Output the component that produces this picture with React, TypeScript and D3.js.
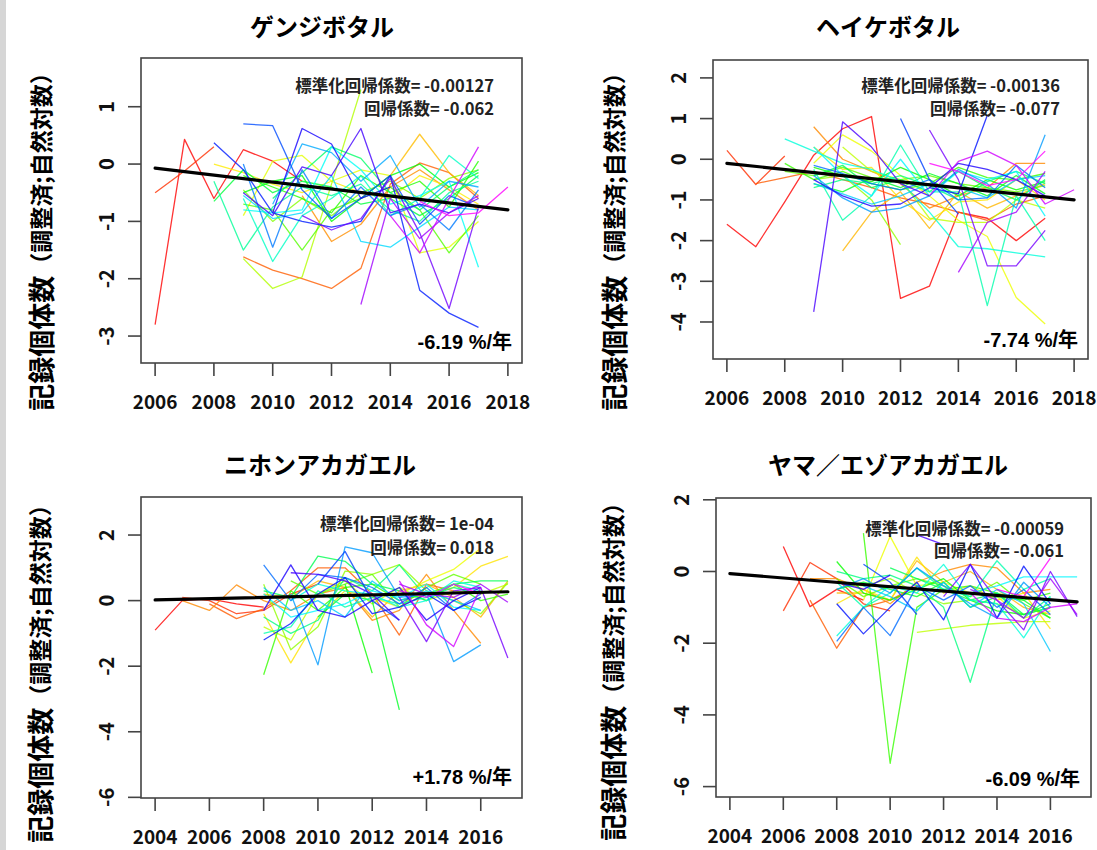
import React from "react";
import * as d3 from "d3";

// ---------------- data ----------------
const xTicksTop = [2006, 2008, 2010, 2012, 2014, 2016, 2018];
const xTicksBottom = [2004, 2006, 2008, 2010, 2012, 2014, 2016];
const yTicksGenji = [-3, -2, -1, 0, 1];
const yTicksHeike = [-4, -3, -2, -1, 0, 1, 2];
const yTicksFrog = [-6, -4, -2, 0, 2];

const titles = ["ゲンジボタル", "ヘイケボタル", "ニホンアカガエル", "ヤマ／エゾアカガエル"];
const stdCoefText = ["標準化回帰係数= -0.00127", "標準化回帰係数= -0.00136", "標準化回帰係数= 1e-04", "標準化回帰係数= -0.00059"];
const coefText = ["回帰係数= -0.062", "回帰係数= -0.077", "回帰係数= 0.018", "回帰係数= -0.061"];
const rateText = ["-6.19 %/年", "-7.74 %/年", "+1.78 %/年", "-6.09 %/年"];
const yTitleMain = "記録個体数";
const yTitleSub = "（調整済;自然対数）";

// trend lines [year, value]
const genjiTrend: [number, number][] = [[2006, -0.07], [2018, -0.80]];
const heikeTrend: [number, number][] = [[2006, -0.10], [2018, -1.00]];
const nihonTrend: [number, number][] = [[2004, 0.02], [2017, 0.27]];
const yamaTrend: [number, number][] = [[2004, -0.06], [2017, -0.85]];

// series: first year + yearly values (ordered by colour, red -> magenta)
const genjiStart = [2006, 2006, 2009, 2011, 2013, 2008, 2009, 2009, 2009, 2009, 2009, 2009, 2008, 2010, 2008, 2009, 2009, 2009, 2010, 2009, 2009, 2008, 2010, 2009, 2011, 2013, 2014, 2015];
const genjiValues = [
  [-2.8, 0.43, -0.6, 0.25, 0.05, -0.3],
  [-0.5, -0.12, 0.3],
  [-1.62, -1.85, -2.0, -2.17, -1.82, -0.35, 0.02, -0.15, -0.6],
  [-0.55, -1.35, -1.05, -0.4, -0.1, -0.45, -0.8],
  [-0.6, -0.2, 0.52, -0.15, -0.55],
  [0.0, -0.15, -0.35, -0.5, -0.3, -0.5, -0.6, -0.2, -0.4, -0.7],
  [-0.9, 0.05, 0.15, -0.3, -0.1, -0.2, -1.55, -1.45, -1.0],
  [-1.65, -2.17, -1.97, -0.35, 1.3],
  [-0.45, -1.0, -0.6, -0.9, -0.5, -0.3, -0.6, -0.25, -0.1],
  [-0.7, -0.8, -1.5, -0.8, -0.6, -0.4, -0.8, -1.55, -0.9],
  [-0.2, -0.4, -0.6, -0.85, -0.2, -0.5, -0.3, -0.75, 0.05],
  [-0.5, -0.3, -0.2, -1.0, -0.6, -0.2, 0.0, -0.4, -0.15],
  [-0.65, -0.1, -0.5, -0.3, -0.4, -0.7, -0.6, -0.9, -0.6, -0.2],
  [-0.6, -0.15, 0.3, 0.1, -0.5, -0.8, -0.4, -0.1],
  [-0.3, -1.5, -0.75, -0.4, -0.55, -0.35, -0.8, -1.0, -0.5, -0.3],
  [-0.6, -1.7, -0.9, -0.6, -0.2, -0.9, -0.6, 0.15, -0.25],
  [-0.8, -0.85, -0.8, 0.3, -0.1, -0.7, -0.55, -0.3, -1.8],
  [-0.55, -0.95, -0.85, -0.2, -1.35, -1.45, -1.1, -0.75, -0.8],
  [-0.7, 0.35, 0.2, -0.3, 0.15, -0.75, -0.3, -0.4],
  [0.0, -1.45, -0.1, -0.95, -0.4, -0.9, -0.7, -1.15, -0.45],
  [0.7, 0.67, -0.45, -0.95, -0.6, -0.2, -1.05, -0.55, -0.75],
  [0.37, -0.1, -0.85, -1.0, -1.1, -1.0, -0.2, -2.2, -2.6, -2.85],
  [-0.85, 0.62, 0.35, -0.6, -0.4],
  [-0.5, -0.9, -0.05, -0.2, 0.62, -0.85, -0.7, -0.85, -0.6],
  [-0.9, -1.15, -0.95, -0.25, -1.2, -2.52, -0.75],
  [-2.45, -0.6, -1.3, -0.85, -0.55],
  [-0.9, -1.55, -0.6, 0.3],
  [-0.65, -0.9, -0.85, -0.4],
];

const heikeStart = [2006, 2006, 2007, 2009, 2010, 2009, 2009, 2010, 2009, 2008, 2008, 2009, 2009, 2009, 2009, 2009, 2008, 2009, 2009, 2009, 2009, 2012, 2013, 2009, 2009, 2013, 2014, 2013, 2013];
const heikeValues = [
  [-1.6, -2.15, -1.05, 0.1, 0.75, 1.05, -3.42, -3.12, -1.3, -1.45, -2.0, -1.45],
  [0.22, -0.62, 0.08],
  [-0.6, -0.45, -0.3, -0.5, -0.7, -0.95, -1.1, -1.3, -1.5, -1.1, -0.9],
  [0.8, 0.0, -0.3, -0.6, -1.2, -0.9, -0.7, -0.1, -0.1],
  [-2.25, -1.3, -0.8, -1.7, -0.8, -1.2, -0.9, -0.6],
  [0.3, -0.25, -0.2, -1.0, -1.5, -1.05, -1.0, -0.5, -1.0],
  [-0.1, 0.6, 0.2, -0.4, -0.9, -1.5, -1.9, -3.4, -4.05],
  [0.3, -0.3, -0.5, -1.45, -1.55, -1.55, -1.0, -1.2],
  [-0.5, -0.4, -1.0, -2.1],
  [-0.3, -0.4, -0.2, -0.45, -0.5, -0.4, -0.6, -0.7, -0.8, -0.65],
  [-0.1, -0.5, -0.3, -0.6, -0.75, -0.6, -0.2, -0.45, -0.5, -0.35],
  [-0.2, -0.4, -0.55, -0.2, -0.5, -0.9, -0.5, -0.75, -0.55],
  [-0.6, -0.8, -0.45, -0.7, -0.35, -0.6, -0.9, -0.4, -0.85],
  [-0.4, -0.15, -0.7, -0.5, -0.8, -0.3, -0.7, -1.0, -0.5],
  [-0.7, -0.5, -0.6, -0.4, -0.65, -1.0, -0.55, -0.3, -0.6],
  [-0.25, -1.5, -0.9, 0.35, -0.8, -0.8, -3.6, -0.9, -2.0],
  [0.5, 0.2, -0.1, -0.25, -0.55, -1.3, -2.15, -2.2, -2.3, -2.4],
  [0.3, -0.4, -0.9, 0.0, -0.9, -0.3, -0.5, -0.3, -1.4],
  [-0.6, -0.85, -1.1, -0.9, -0.6, -0.7, -0.95, -0.5, -0.4],
  [-0.4, -0.95, -1.3, -1.2, -0.9, -0.25, -0.6, -1.2, 0.6],
  [-0.15, -0.35, -0.6, -0.75, -0.5, -1.0, -0.95, -0.15, -0.7],
  [1.0, -0.5, -1.35],
  [-0.7, -0.85, 1.08],
  [-0.5, -0.9, -1.15, -1.1, -0.7, -0.1, -0.25, -0.5, -0.9],
  [-3.75, 0.92, 0.3, -0.6, -0.9],
  [0.72, -0.5, -2.62, -2.62, -1.75],
  [-2.78, -1.55, -1.3, -0.3],
  [-0.9, -0.05, 0.2, -0.15, -1.1, -0.75],
  [-0.1, -0.3, -0.65, -0.5, 0.2],
];

const nihonStart = [2004, 2005, 2006, 2005, 2008, 2008, 2013, 2008, 2008, 2009, 2008, 2011, 2010, 2008, 2008, 2008, 2009, 2008, 2008, 2009, 2008, 2010, 2008, 2008, 2009, 2013, 2013, 2013, 2013];
const nihonValues = [
  [-0.9, 0.0, 0.05, -0.1, -0.2],
  [0.1, 0.0, -0.4, -0.3, 0.2, 0.5],
  [-0.1, -0.55, -0.25, 0.3, 1.0, 1.0, 0.2, -1.05, 0.5, 0.3],
  [0.0, -0.3, 0.48, 0.0, -0.3, 0.2, 0.4, -0.6, -0.3, 0.8, -0.3, -1.3],
  [0.2, 0.1, 0.6, 0.4, -0.5, 0.3, 0.5, 0.1, -0.5, 0.6],
  [-0.4, -1.9, -0.5, 0.3, 0.1, -0.2, 0.2, 0.4, 1.05, 1.35],
  [0.2, 0.6, 0.95, 1.6],
  [-0.8, -1.2, 0.2, 0.6, -0.1, 0.4, 0.0, 0.3, 0.2, 0.5],
  [0.5, -1.5, -0.8, 0.9, 0.8, 1.1, 0.3, 0.0, -0.4, 0.55],
  [0.6, 0.2, 0.5, 0.8, -0.2, 0.4, 0.8, 0.5],
  [-2.26, 0.3, -0.3, 0.4, 0.5, 0.0, 0.2, 0.5, 0.0, 0.2],
  [0.5, -2.21],
  [-0.5, 0.2, 0.0, -3.33],
  [0.3, 0.1, 1.36, 1.2, 0.5, 0.3, 0.0, 0.5, 0.6, 0.6],
  [-0.5, -1.0, -0.6, 0.7, 0.3, 1.09, 0.1, 0.4, 0.2],
  [-1.0, -0.8, 0.3, -0.2, 0.1, -0.1, 0.1, 0.5, 0.3],
  [0.0, 0.5, 0.3, 0.2, -0.2, 0.0, 0.6, 0.4],
  [0.2, -0.5, -0.3, -0.1, 0.3, 0.1, 0.5, -0.2, -0.3],
  [0.4, -0.3, 0.0, -0.5, 0.6, 0.0, 0.3, 0.0, -0.3],
  [0.2, -1.96, 1.64, 1.46, 0.1, 0.2, -1.86, -1.35],
  [1.09, 0.0, 0.8, 0.7, 0.4, -0.1, 0.4, -0.3, 0.2],
  [0.5, 1.5, 0.0, -0.6],
  [-1.2, -0.7, 0.2, 0.7, -0.4, -0.2, 0.2, -0.3, 0.1],
  [-0.3, 1.09, -0.3, -0.5, 0.0, 0.4, -0.6, 0.0, 0.4],
  [0.85, 0.8, 0.6, 0.2, -0.6],
  [0.1, -1.25, 0.3, 0.4, -1.75],
  [0.5, 0.2, 0.1, 0.5, -0.05],
  [0.6, -0.74, -1.4, 0.4],
  [0.3, 0.1, 0.5, 0.2],
];

const yamaStart = [2006, 2006, 2007, 2007, 2008, 2008, 2009, 2011, 2008, 2008, 2009, 2008, 2008, 2010, 2008, 2008, 2008, 2013, 2009, 2008, 2008, 2009, 2008, 2008, 2011, 2012, 2013, 2013, 2014];
const yamaValues = [
  [0.7, -0.98, -0.5, -0.8],
  [-1.1, 0.25, -0.2, -0.9, -1.1],
  [-0.8, -2.14, -1.0, -0.8, -0.4],
  [-0.2, -0.2, -0.5, -0.9, -0.3, 0.0, 0.2, 0.1, -0.6, -0.5],
  [-0.6, -0.6, -0.8, 0.3, -0.3, 0.0, -0.5, -1.0, -1.2],
  [-0.9, -0.5, -0.8, 0.4, -0.6, -0.4, -0.8, -0.6, -1.6],
  [-0.8, 0.98, -0.4, -0.3, -0.6, -0.7, -1.3, -1.1],
  [-1.7, -1.6, -1.5, -1.45, -1.4, -1.4],
  [-0.3, -0.4, -0.2, -0.6, -0.9, -0.8, -0.9, -1.2, -1.0],
  [-0.2, -0.7, -0.4, -0.2, -0.4, -0.7, -0.3, -0.9, -1.3],
  [1.07, -5.35, -1.0, -0.5, -0.4, -0.6, -0.8, -0.6],
  [0.28, -0.6, -0.8, -0.5, -0.2, -0.8, -1.1, -1.2, -0.9],
  [-0.5, -0.3, -0.5, -0.7, -0.3, -1.0, -0.7, -0.8, -1.3],
  [0.1, -0.2, -0.5, -0.8, -0.6, -1.2, -1.0],
  [0.0, -0.2, -0.1, -0.4, -1.0, -3.09, -0.6, -1.3, -0.7],
  [-0.3, -1.0, -0.6, 0.1, -0.5, -0.7, 0.3, -0.5, -0.2],
  [-1.8, -1.0, -0.4, -0.6, 0.2, -0.8, -0.9, -1.85, -0.7],
  [-0.6, -0.4, -0.15, -0.15, -0.15],
  [-0.4, -0.7, -1.1, -0.3, -1.0, -0.5, -0.9, -2.23],
  [-0.5, -0.2, -0.6, 0.1, -0.4, -0.9, -1.3, -0.3, -1.0],
  [-1.95, -1.0, -1.79, -0.4, -0.8, -0.4, -1.0, -0.5, -1.2],
  [0.2, -0.3, -1.2],
  [-0.9, -1.74, -1.0, -0.3, -1.35, 0.2, -1.3, 0.15, -0.9],
  [-0.3, -0.5, -0.1],
  [1.02, 0.75],
  [-0.7, 0.2, -0.8, -1.63, 0.0, -1.26],
  [-0.5, -0.8, -1.3, -0.2, -1.2],
  [-0.6, -1.3, -1.4, -1.0, -0.9],
  [-0.5, -0.7, 0.37],
];

// ---------------- layout ----------------
type PanelCfg = {
  id: string;
  left: number; right: number; top: number; bottom: number;
  xDomain: [number, number]; yDomain: [number, number];
  xTicks: number[]; yTicks: number[];
  starts: number[]; values: number[][]; trend: [number, number][];
  title: string; titleX: number; titleY: number;
  yTitleX: number; yTitleY: number;
  annRight: number; annY: [number, number];
  rateRight: number; rateY: number;
  std: string; coef: string; rate: string;
};

const panels: PanelCfg[] = [
  {
    id: "p1", left: 141, right: 522, top: 58, bottom: 363,
    xDomain: [2005.52, 2018.48], yDomain: [-3.47, 1.85],
    xTicks: xTicksTop, yTicks: yTicksGenji,
    starts: genjiStart, values: genjiValues, trend: genjiTrend,
    title: titles[0], titleX: 322, titleY: 25, yTitleX: 40, yTitleY: 236,
    annRight: 494, annY: [85, 108], rateRight: 512, rateY: 342,
    std: stdCoefText[0], coef: coefText[0], rate: rateText[0],
  },
  {
    id: "p2", left: 713, right: 1088, top: 60, bottom: 359,
    xDomain: [2005.52, 2018.48], yDomain: [-4.91, 2.44],
    xTicks: xTicksTop, yTicks: yTicksHeike,
    starts: heikeStart, values: heikeValues, trend: heikeTrend,
    title: titles[1], titleX: 888, titleY: 25, yTitleX: 613, yTitleY: 236,
    annRight: 1060, annY: [85, 108], rateRight: 1078, rateY: 340,
    std: stdCoefText[1], coef: coefText[1], rate: rateText[1],
  },
  {
    id: "p3", left: 141, right: 522, top: 497, bottom: 798,
    xDomain: [2003.48, 2017.52], yDomain: [-6.02, 3.16],
    xTicks: xTicksBottom, yTicks: yTicksFrog,
    starts: nihonStart, values: nihonValues, trend: nihonTrend,
    title: titles[2], titleX: 320, titleY: 463, yTitleX: 39, yTitleY: 668,
    annRight: 494, annY: [523, 547], rateRight: 512, rateY: 777,
    std: stdCoefText[2], coef: coefText[2], rate: rateText[2],
  },
  {
    id: "p4", left: 716, right: 1091, top: 498, bottom: 797,
    xDomain: [2003.48, 2017.52], yDomain: [-6.29, 2.05],
    xTicks: xTicksBottom, yTicks: yTicksFrog,
    starts: yamaStart, values: yamaValues, trend: yamaTrend,
    title: titles[3], titleX: 888, titleY: 463, yTitleX: 612, yTitleY: 666,
    annRight: 1064, annY: [528, 550], rateRight: 1080, rateY: 779,
    std: stdCoefText[3], coef: coefText[3], rate: rateText[3],
  },
];

const JP = "'Noto Sans CJK JP', 'Noto Sans', sans-serif";
const LAT = "'Liberation Sans', Arial, 'Noto Sans CJK JP', sans-serif";

function Panel({ p }: { p: PanelCfg }) {
  const x = d3.scaleLinear().domain(p.xDomain).range([p.left, p.right]);
  const y = d3.scaleLinear().domain(p.yDomain).range([p.bottom, p.top]);
  const n = p.values.length;
  const color = (i: number) => d3.hsl((i / (n - 1)) * 300, 1, 0.5).formatHex();
  const line = d3
    .line<[number, number]>()
    .x((d) => x(d[0]))
    .y((d) => y(d[1]));
  const clipId = `clip-${p.id}`;
  return (
    <g>
      <defs>
        <clipPath id={clipId}>
          <rect x={p.left} y={p.top} width={p.right - p.left} height={p.bottom - p.top} />
        </clipPath>
      </defs>
      <g clipPath={`url(#${clipId})`}>
        {p.values.map((vals, i) => {
          const pts: [number, number][] = vals.map((v, k) => [p.starts[i] + k, v]);
          return (
            <path
              key={i}
              d={line(pts) || ""}
              fill="none"
              stroke={color(i)}
              strokeWidth={1.3}
              strokeOpacity={0.8}
              strokeLinejoin="round"
            />
          );
        })}
        <path d={line(p.trend) || ""} fill="none" stroke="#000" strokeWidth={3.2} strokeLinecap="round" />
      </g>
      <rect
        x={p.left}
        y={p.top}
        width={p.right - p.left}
        height={p.bottom - p.top}
        fill="none"
        stroke="#444"
        strokeWidth={1.6}
      />
      {p.xTicks.map((t) => (
        <g key={t}>
          <line x1={x(t)} x2={x(t)} y1={p.bottom} y2={p.bottom + 13} stroke="#444" strokeWidth={1.6} />
          <text
            x={x(t)}
            y={p.bottom + 46}
            textAnchor="middle"
            fontFamily={JP}
            fontWeight={700}
            fontSize={19}
            fill="#111"
          >
            {t}
          </text>
        </g>
      ))}
      {p.yTicks.map((t) => (
        <g key={t}>
          <line x1={p.left - 13} x2={p.left} y1={y(t)} y2={y(t)} stroke="#444" strokeWidth={1.6} />
          <text
            transform={`translate(${p.left - 36},${y(t)}) rotate(-90)`}
            textAnchor="middle"
            dominantBaseline="central"
            fontFamily={JP}
            fontWeight={700}
            fontSize={20}
            fill="#111"
          >
            {t < 0 ? `-${Math.abs(t)}` : t}
          </text>
        </g>
      ))}
      <text
        x={p.titleX}
        y={p.titleY}
        textAnchor="middle"
        dominantBaseline="central"
        fontFamily={JP}
        fontWeight={700}
        fontSize={24}
        fill="#000"
      >
        {p.title}
      </text>
      <text
        transform={`translate(${p.yTitleX},${p.yTitleY}) rotate(-90)`}
        textAnchor="middle"
        dominantBaseline="central"
        fontFamily={JP}
        fontWeight={700}
        fill="#000"
      >
        <tspan fontSize={27}>{yTitleMain}</tspan>
        <tspan fontSize={23}>{yTitleSub}</tspan>
      </text>
      <text
        x={p.annRight}
        y={p.annY[0]}
        textAnchor="end"
        dominantBaseline="central"
        fontFamily={JP}
        fontWeight={700}
        fontSize={16.5}
        fill="#222"
      >
        {p.std}
      </text>
      <text
        x={p.annRight}
        y={p.annY[1]}
        textAnchor="end"
        dominantBaseline="central"
        fontFamily={JP}
        fontWeight={700}
        fontSize={16.5}
        fill="#222"
      >
        {p.coef}
      </text>
      <text
        x={p.rateRight}
        y={p.rateY}
        textAnchor="end"
        dominantBaseline="central"
        fontFamily={LAT}
        fontWeight={700}
        fontSize={20}
        fill="#000"
      >
        {p.rate}
      </text>
    </g>
  );
}

export default function App() {
  return (
    <svg
      width={1097}
      height={850}
      viewBox="0 0 1097 850"
      style={{ position: "absolute", left: 0, top: 0, background: "#fff" }}
    >
      <rect x={0} y={0} width={1097} height={850} fill="#fff" />
      <rect x={0} y={0} width={6} height={850} fill="#d6d6d6" />
      {panels.map((p) => (
        <Panel key={p.id} p={p} />
      ))}
    </svg>
  );
}
